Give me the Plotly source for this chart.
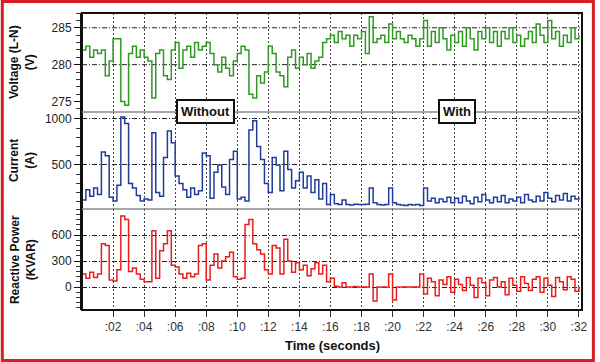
import plotly.graph_objects as go
from plotly.subplots import make_subplots

time_s = [
    0.0, 0.25, 0.5, 0.75, 1.0, 1.25, 1.5, 1.75,
    2.0, 2.25, 2.5, 2.75, 3.0, 3.25, 3.5, 3.75,
    4.0, 4.25, 4.5, 4.75, 5.0, 5.25, 5.5, 5.75,
    6.0, 6.25, 6.5, 6.75, 7.0, 7.25, 7.5, 7.75,
    8.0, 8.25, 8.5, 8.75, 9.0, 9.25, 9.5, 9.75,
    10.0, 10.25, 10.5, 10.75, 11.0, 11.25, 11.5, 11.75,
    12.0, 12.25, 12.5, 12.75, 13.0, 13.25, 13.5, 13.75,
    14.0, 14.25, 14.5, 14.75, 15.0, 15.25, 15.5, 15.75,
    16.0, 16.25, 16.5, 16.75, 17.0, 17.25, 17.5, 17.75,
    18.0, 18.25, 18.5, 18.75, 19.0, 19.25, 19.5, 19.75,
    20.0, 20.25, 20.5, 20.75, 21.0, 21.25, 21.5, 21.75,
    22.0, 22.25, 22.5, 22.75, 23.0, 23.25, 23.5, 23.75,
    24.0, 24.25, 24.5, 24.75, 25.0, 25.25, 25.5, 25.75,
    26.0, 26.25, 26.5, 26.75, 27.0, 27.25, 27.5, 27.75,
    28.0, 28.25, 28.5, 28.75, 29.0, 29.25, 29.5, 29.75,
    30.0, 30.25, 30.5, 30.75, 31.0, 31.25, 31.5, 31.75,
    32.0,
]

voltage_v = [
    282, 282.5, 281, 282, 281.5, 282, 278.5, 280.5,
    283.5, 283.5, 275, 274.5, 281.5, 282.5, 281, 282,
    281, 280.5, 275.5, 281.5, 282, 278.5, 278, 282,
    283, 279.5, 282, 282.5, 281, 283, 282, 282.5,
    283, 281.5, 280, 279, 281, 279.5, 278.5, 280.5,
    281.5, 282.5, 282, 276, 275.5, 278.5, 277.5, 279,
    282.5, 281.5, 279, 278.5, 277, 281, 282, 279.5,
    281, 280, 281.5, 279.5, 280.5, 281, 283, 283.5,
    284, 283, 284.5, 283.5, 284, 282.5, 284, 283.5,
    284.5, 281.5, 286.5, 283, 283.5, 284, 283, 285.5,
    283.5, 284.5, 283.5, 283, 284, 283.5, 282.5, 283.5,
    286, 282.5, 284.5, 283, 285, 283.5, 282, 284,
    283, 284.5, 282.5, 285, 283.5, 282, 284.5, 283.5,
    285, 283, 284.5, 282.5, 284.5, 283.5, 285, 283,
    284, 282.5, 283.5, 284.5, 283, 285.5, 284, 283,
    286, 283.5, 284.5, 282.5, 284, 283, 285, 283.5,
    284,
]

current_a = [
    120, 230, 160, 250, 180, 640, 600, 150,
    110, 280, 1020, 950, 300, 250, 170, 110,
    130, 120, 850, 200, 160, 580, 870, 740,
    380, 300, 230, 150, 250, 180, 220, 630,
    600, 140, 420, 500, 260, 180, 560, 650,
    130, 150, 110, 880, 980, 700, 560, 300,
    200, 580, 500, 220, 650, 450, 250, 330,
    420, 250, 380, 200, 340, 130, 300, 70,
    180, 80, 70, 120, 70, 65, 75, 70,
    70, 75, 250, 90, 70, 65, 70, 250,
    90, 70, 65, 60, 70, 65, 70, 60,
    250, 110, 140, 90, 130, 100, 150, 90,
    140, 90, 160, 110, 80, 150, 100, 180,
    120, 90, 150, 100, 170, 90, 130, 110,
    150, 90, 180, 120, 100, 160, 110, 200,
    140, 100, 170, 120, 190, 110, 160, 130,
    150,
]

reactive_kvar = [
    150, 100, 170, 110, 150, 500, 480, 80,
    70, 200, 820, 780, 180, 220, 150, 90,
    60, 60, 650, 100, 420, 500, 650, 250,
    230, 150, 100, 160, 120, 150, 480, 500,
    80, 250, 380, 220, 300, 350, 400, 120,
    90, 100, 720, 780, 500, 430, 380, 200,
    150, 480, 450, 150, 550, 300, 170, 280,
    200, 250, 130, 210, 280, 150, 250, 60,
    100, 10, 0, 50, 0, 0, 5, 0,
    0, 0, 150, -160, 0, 0, 0, 150,
    -150, 0, 0, 0, 0, 0, 0, 150,
    -80, 100, 60, -100, 80, 30, 120, -60,
    90, 30, -40, 110, 20, -120, 100, 50,
    -100, 80, 110, 0, 60, -90, 100, 20,
    -50, 120, 40, -40, 90, 120, -60, 100,
    20, -110, 110, 60, -30, 120, 90, -50,
    0,
]

x_tick_vals = [2, 4, 6, 8, 10, 12, 14, 16, 18, 20, 22, 24, 26, 28, 30, 32]
x_tick_text = [":02", ":04", ":06", ":08", ":10", ":12", ":14", ":16",
               ":18", ":20", ":22", ":24", ":26", ":28", ":30", ":32"]
voltage_ticks = [275, 280, 285]
voltage_grid = [280, 285]
current_ticks = [500, 1000]
reactive_ticks = [0, 300, 600]

FONT = "Liberation Sans, Arial, sans-serif"

fig = make_subplots(rows=3, cols=1, shared_xaxes=True, vertical_spacing=0)
fig.add_trace(go.Scatter(x=time_s, y=voltage_v, mode="lines", line_shape="hv",
                         line=dict(color="#2e9a22", width=1.5)), row=1, col=1)
fig.add_trace(go.Scatter(x=time_s, y=current_a, mode="lines", line_shape="hv",
                         line=dict(color="#1f3c9c", width=1.5)), row=2, col=1)
fig.add_trace(go.Scatter(x=time_s, y=reactive_kvar, mode="lines", line_shape="hv",
                         line=dict(color="#ec1c1c", width=1.5)), row=3, col=1)

d_bot, d_mid = 0.340, 0.667
GRID_DASH = "5px,2px,1px,2px"

xcommon = dict(range=[0, 32.2], tickvals=x_tick_vals, ticktext=x_tick_text,
               showgrid=True, gridcolor="#444", griddash="2px,2px", gridwidth=1,
               zeroline=False, showline=False)
fig.update_xaxes(**xcommon)
fig.update_xaxes(ticks="outside", ticklen=6, tickcolor="#333",
                 tickfont=dict(family=FONT, size=12, color="#333"), row=3, col=1)

ycommon = dict(gridcolor="#222", griddash=GRID_DASH, gridwidth=1,
               zeroline=False, showline=True, linecolor="#111", linewidth=2,
               ticks="outside", ticklen=6, tickcolor="#111",
               tickfont=dict(family=FONT, size=12, color="#222"))
fig.update_layout(
    yaxis=dict(domain=[d_mid, 1], range=[273.6, 287], tickvals=voltage_ticks, showgrid=False,
               minor=dict(ticks="outside", ticklen=4, dtick=1, tickcolor="#333", showgrid=False),
               **ycommon),
    yaxis2=dict(domain=[d_bot, d_mid], range=[22, 1076], tickvals=current_ticks, showgrid=True,
                minor=dict(ticks="outside", ticklen=4, dtick=100, tickcolor="#333", showgrid=False),
                **ycommon),
    yaxis3=dict(domain=[0, d_bot], range=[-265, 900], tickvals=reactive_ticks, showgrid=True,
                minor=dict(ticks="outside", ticklen=4, dtick=60, tickcolor="#333", showgrid=False),
                **ycommon),
)

W, H = 600, 362
ML, MR, MT, MB = 82, 13, 13, 52
pw, ph = W - ML - MR, H - MT - MB

def px(xp):
    return (xp - ML) / pw

def py(yp):
    return (H - MB - yp) / ph

shapes = [
    dict(type="line", xref="paper", yref="y", x0=0, x1=1, y0=g, y1=g,
         line=dict(color="#222", width=1, dash=GRID_DASH), layer="below")
    for g in voltage_grid
]
shapes += [
    dict(type="rect", xref="paper", yref="paper", x0=0, x1=1, y0=0, y1=1,
         line=dict(color="#111", width=2), layer="above"),
    dict(type="line", xref="paper", yref="paper", x0=0, x1=1, y0=d_mid, y1=d_mid,
         line=dict(color="#8a8a8a", width=1.5), layer="above"),
    dict(type="line", xref="paper", yref="paper", x0=0, x1=1, y0=d_bot, y1=d_bot,
         line=dict(color="#8a8a8a", width=1.5), layer="above"),
    dict(type="rect", xref="paper", yref="paper", x0=px(1.5), x1=px(W - 1.5),
         y0=py(H - 1.5), y1=py(1.5), line=dict(color="#d41f26", width=3), layer="above"),
]

title_font = dict(family=FONT, size=12, color="#111")
annotations = [
    dict(text="<b>Voltage (L-N)<br>(V)</b>", x=px(22), y=(d_mid + 1) / 2,
         textangle=-90, font=title_font),
    dict(text="<b>Current<br>(A)</b>", x=px(22), y=(d_bot + d_mid) / 2,
         textangle=-90, font=title_font),
    dict(text="<b>Reactive Power<br>(KVAR)</b>", x=px(22), y=d_bot / 2,
         textangle=-90, font=title_font),
    dict(text="<b>Time (seconds)</b>", x=0.5, y=py(345),
         font=dict(family=FONT, size=13, color="#111")),
    dict(text="<b>Without</b>", x=px(207), y=d_mid, bgcolor="white",
         bordercolor="#111", borderwidth=2, borderpad=3,
         font=dict(family=FONT, size=13, color="#111")),
    dict(text="<b>With</b>", x=px(461), y=d_mid, bgcolor="white",
         bordercolor="#111", borderwidth=2, borderpad=3,
         font=dict(family=FONT, size=13, color="#111")),
]
for a in annotations:
    a.update(xref="paper", yref="paper", showarrow=False,
             xanchor="center", yanchor="middle")

fig.update_layout(
    width=W, height=H, margin=dict(l=ML, r=MR, t=MT, b=MB),
    paper_bgcolor="white", plot_bgcolor="white", showlegend=False,
    shapes=shapes, annotations=annotations,
)

fig.write_html("out.html", config={"displayModeBar": False},
               post_script="document.body.style.margin='0px';document.body.style.padding='0px';")
